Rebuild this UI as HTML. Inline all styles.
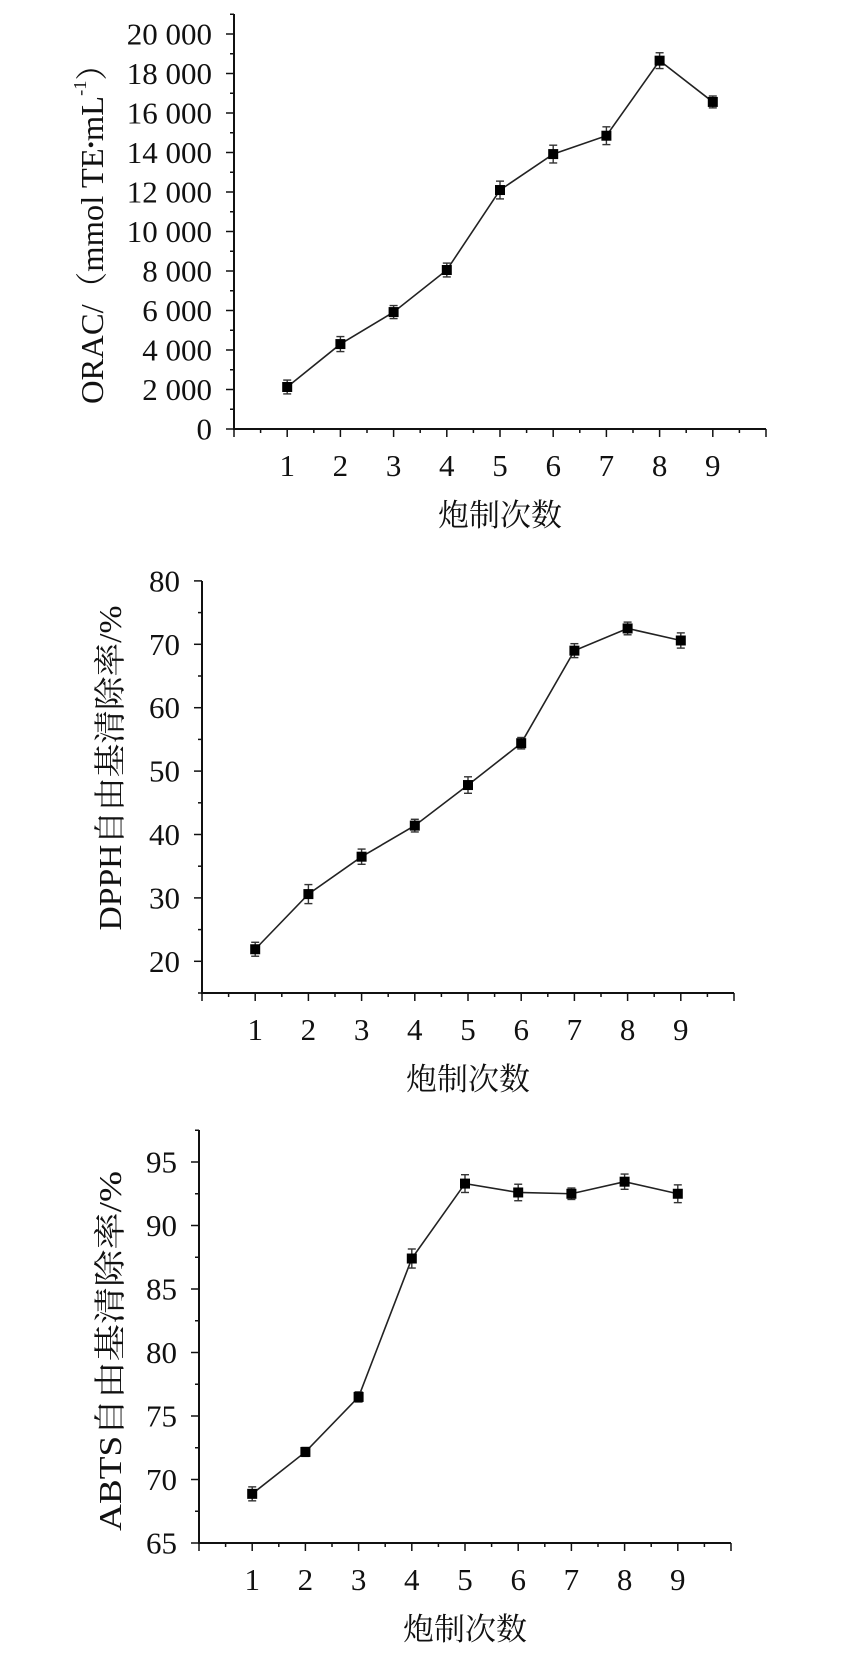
<!DOCTYPE html>
<html><head><meta charset="utf-8"><style>
html,body{margin:0;padding:0;background:#fff;}
svg{display:block;}
text{font-family:"Liberation Serif","Noto Serif CJK SC","Noto Sans CJK SC",serif;fill:#111;}
</style></head><body>
<svg id="s" width="858" height="1664" viewBox="0 0 858 1664" xmlns="http://www.w3.org/2000/svg"></svg>
<script>
const S=document.getElementById('s');let h='';
function chart(c){
  const x0=c.x0,ay=c.ay,st=53.2,xe=x0+10*st;
  const Y=v=>ay-(v-c.vmin)*c.k;
  h+=`<line x1="${x0}" y1="${c.top}" x2="${x0}" y2="${ay+1}" stroke="#111" stroke-width="2"/>`;
  h+=`<line x1="${x0-1}" y1="${ay}" x2="${xe}" y2="${ay}" stroke="#111" stroke-width="2"/>`;
  for(let i=0;i<=20;i++){const x=x0+i*st/2;h+=`<line x1="${x}" y1="${ay}" x2="${x}" y2="${ay+(i%2?4:8)}" stroke="#111" stroke-width="1.5"/>`;}
  for(let v=c.vmin;v<=c.vtop+1e-9;v+=c.minor){const y=Y(v);const r=(v-c.lbase)/c.major;const maj=Math.abs(r-Math.round(r))<1e-6;
    if(y<c.top-1)continue;
    h+=`<line x1="${x0-(maj?8:4)}" y1="${y}" x2="${x0}" y2="${y}" stroke="#111" stroke-width="1.5"/>`;
    if(maj&&v>=c.lmin)h+=`<text x="${x0-22}" y="${y+10.5}" font-size="31" text-anchor="end">${c.fmt(v)}</text>`;}
  for(let i=1;i<=9;i++)h+=`<text x="${x0+i*st}" y="${ay+47}" font-size="31" text-anchor="middle">${i}</text>`;
  h+=`<text x="${(x0+xe)/2}" y="${ay+97}" font-size="31" text-anchor="middle">炮制次数</text>`;
  h+=`<text transform="translate(${c.tx},${c.tc}) rotate(-90)" x="0" y="0" font-size="32" text-anchor="middle" dominant-baseline="central" textLength="${c.tl}" lengthAdjust="spacingAndGlyphs">${c.title}</text>`;
  let pts=c.d.map((v,i)=>[x0+(i+1)*st,Y(v)]);
  h+=`<polyline points="${pts.map(p=>p.join(',')).join(' ')}" fill="none" stroke="#222" stroke-width="1.6"/>`;
  pts.forEach((p,i)=>{const e=c.e[i]*c.k;
    h+=`<line x1="${p[0]}" y1="${p[1]-e}" x2="${p[0]}" y2="${p[1]+e}" stroke="#333" stroke-width="1.4"/>`;
    h+=`<line x1="${p[0]-4}" y1="${p[1]-e}" x2="${p[0]+4}" y2="${p[1]-e}" stroke="#333" stroke-width="1.4"/>`;
    h+=`<line x1="${p[0]-4}" y1="${p[1]+e}" x2="${p[0]+4}" y2="${p[1]+e}" stroke="#333" stroke-width="1.4"/>`;
    h+=`<rect x="${p[0]-5}" y="${p[1]-5}" width="10" height="10" fill="#000"/>`;});
}
chart({x0:234,ay:429,top:14,vmin:0,vtop:21000,lmin:0,lbase:0,k:39.5/2000,major:2000,minor:1000,
 fmt:v=>v>=1000?Math.floor(v/1000)+' '+String(v%1000).padStart(3,'0'):String(v),
 tx:92,tc:226,tl:356,title:'ORAC/（mmol TE<tspan font-size="20">•</tspan>mL<tspan font-size="18" dy="-12">-1</tspan><tspan dy="12">）</tspan>',
 d:[2127,4300,5920,8050,12100,13920,14850,18650,16560],e:[350,380,330,350,450,450,450,400,300]});
chart({x0:202,ay:993,top:581,vmin:15,vtop:80,lmin:20,lbase:20,k:6.34,major:10,minor:5,
 fmt:v=>String(v),tx:110,tc:768,tl:325,title:'DPPH自由基清除率/%',
 d:[21.9,30.6,36.5,41.4,47.8,54.4,69.0,72.5,70.6],e:[1.1,1.5,1.2,1.0,1.3,0.9,1.1,1.0,1.2]});
chart({x0:199,ay:1543,top:1130,vmin:65,vtop:97.5,lmin:65,lbase:65,k:12.7,major:5,minor:2.5,
 fmt:v=>String(v),tx:110,tc:1351,tl:360,title:'ABTS自由基清除率/%',
 d:[68.87,72.17,76.5,87.4,93.3,92.6,92.5,93.45,92.5],e:[0.55,0.35,0.4,0.75,0.7,0.65,0.45,0.6,0.7]});
S.innerHTML=h;
</script>
</body></html>
